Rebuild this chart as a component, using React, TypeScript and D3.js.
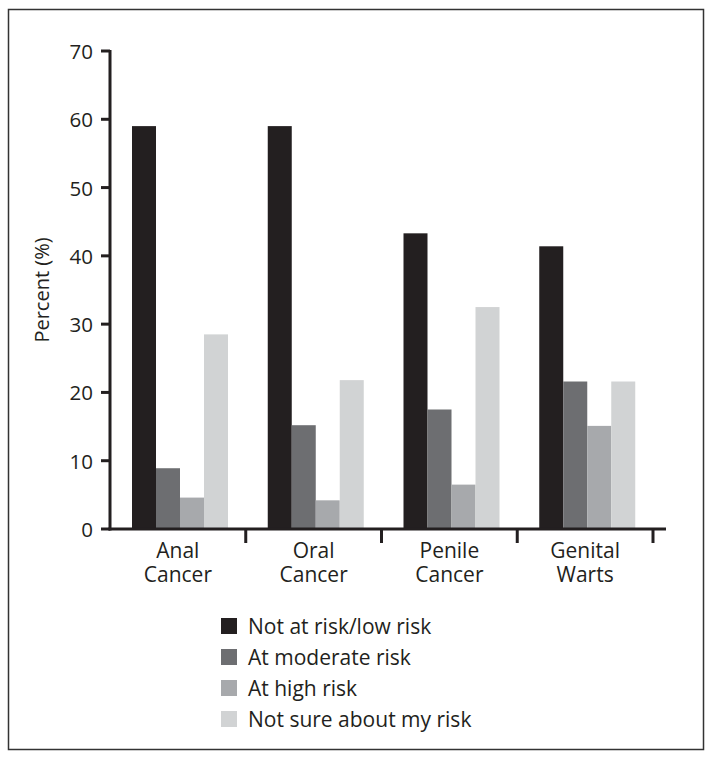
import React from "react";
import * as d3 from "d3";

const categories = [["Anal", "Cancer"], ["Oral", "Cancer"], ["Penile", "Cancer"], ["Genital", "Warts"]];
const seriesNames = ["Not at risk/low risk", "At moderate risk", "At high risk", "Not sure about my risk"];
const notAtRisk = [59.0, 59.0, 43.3, 41.4];
const moderate = [8.9, 15.2, 17.5, 21.6];
const high = [4.6, 4.2, 6.5, 15.1];
const notSure = [28.5, 21.8, 32.5, 21.6];
const yTicks = [0, 10, 20, 30, 40, 50, 60, 70];
const colors = ["#231f20", "#6d6e71", "#a7a9ac", "#d1d3d4"];

const W = 714;
const H = 764;
const FONT = "'Open Sans', 'Liberation Sans', sans-serif";

export default function App() {
  const series = [notAtRisk, moderate, high, notSure];
  const catKeys = categories.map((c) => c.join(" "));
  const x = d3.scaleBand<string>().domain(catKeys).range([110, 653]).padding(0);
  const bw = x.bandwidth();
  const xi = d3.scaleBand<string>().domain(seriesNames).range([22, 22 + 96]).padding(0);
  const y = d3.scaleLinear().domain([0, 70]).range([529, 51]);
  const axisColor = "#231f20";

  return (
    <svg width={W} height={H} style={{ position: "absolute", left: 0, top: 0, display: "block" }} fontFamily={FONT}>
      <rect x={0} y={0} width={W} height={H} fill="#fff" />
      <rect x={8.5} y={9.5} width={695} height={740} fill="none" stroke="#333" strokeWidth={1.5} />
      {/* bars */}
      {catKeys.map((c, ci) => (
        <g key={c}>
          {series.map((s, si) => (
            <rect
              key={si}
              x={(x(c) as number) + (xi(seriesNames[si]) as number)}
              y={y(s[ci])}
              width={xi.bandwidth()}
              height={y(0) - y(s[ci])}
              fill={colors[si]}
            />
          ))}
        </g>
      ))}
      {/* y axis */}
      <line x1={110} x2={110} y1={y(70) - 1} y2={y(0) + 1.5} stroke={axisColor} strokeWidth={3} />
      {yTicks.map((t) => (
        <g key={t}>
          <line x1={101} x2={110} y1={y(t)} y2={y(t)} stroke={axisColor} strokeWidth={3} />
          <text x={93} y={y(t)} textAnchor="end" dominantBaseline="central" fontSize={20.5} fill="#231f20">
            {t}
          </text>
        </g>
      ))}
      {/* x axis */}
      <line x1={108.5} x2={666} y1={y(0)} y2={y(0)} stroke={axisColor} strokeWidth={3} />
      {catKeys.map((c) => (
        <line
          key={"t" + c}
          x1={(x(c) as number) + bw}
          x2={(x(c) as number) + bw}
          y1={y(0)}
          y2={y(0) + 14}
          stroke={axisColor}
          strokeWidth={3}
        />
      ))}
      {categories.map((c, ci) => (
        <text key={"l" + ci} textAnchor="middle" fontSize={21} fill="#231f20">
          {c.map((line, li) => (
            <tspan key={li} x={(x(catKeys[ci]) as number) + bw / 2} y={558 + li * 24}>
              {line}
            </tspan>
          ))}
        </text>
      ))}
      <text
        transform={`translate(49,${(y(0) + y(70)) / 2}) rotate(-90)`}
        textAnchor="middle"
        fontSize={20}
        fill="#231f20"
      >
        Percent (%)
      </text>
      {/* legend */}
      {seriesNames.map((n, i) => (
        <g key={n} transform={`translate(221,${626 + i * 31})`}>
          <rect x={0} y={-8} width={16} height={16} fill={colors[i]} />
          <text x={27} y={0} dominantBaseline="central" fontSize={21} fill="#231f20">
            {n}
          </text>
        </g>
      ))}
    </svg>
  );
}
